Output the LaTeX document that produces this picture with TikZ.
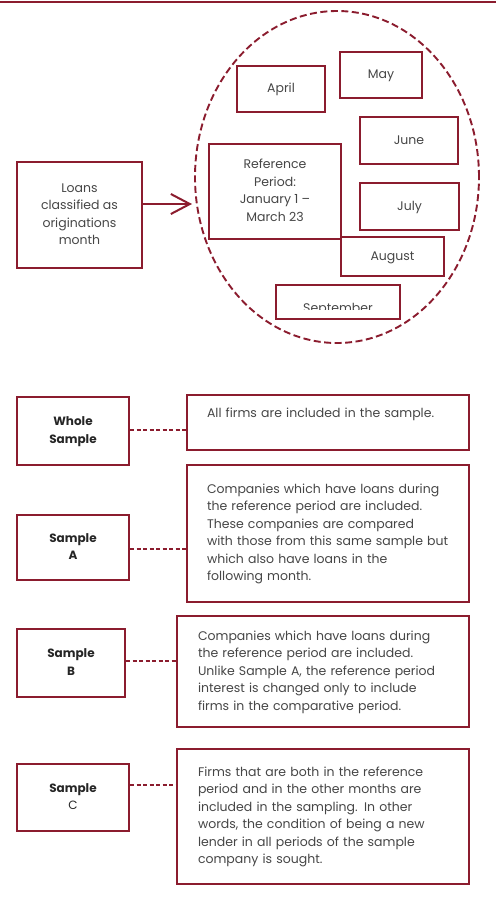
\documentclass[tikz,border=0pt]{standalone}
\usepackage{fontspec}
\setmainfont{Poppins}
\usetikzlibrary{arrows.meta,shapes.geometric}
\definecolor{dred}{RGB}{139,28,46}
\definecolor{txt}{RGB}{70,70,70}
\newcommand{\tlines}[3]{\raisebox{#1}{\begin{tabular}{@{}#2@{}}#3\end{tabular}}}
\begin{document}
\begin{tikzpicture}[x=1pt,y=-1pt,
  box/.style={draw=dred, line width=2pt, rectangle, inner sep=0pt, text=txt, align=center,
    font=\fontsize{12.5}{17.5}\selectfont},
  lab/.style={draw=dred, line width=2pt, rectangle, inner sep=0pt, text=black!85, align=center,
    font=\fontsize{12}{17.5}\selectfont\bfseries},
  desc/.style={draw=dred, line width=2pt, rectangle, inner ysep=0pt, text=txt, align=left,
    font=\fontsize{12.5}{17.5}\selectfont},
  conn/.style={draw=dred, line width=1.6pt, dash pattern=on 4pt off 2.5pt},
]
\useasboundingbox (0,0) rectangle (496,898);
\draw[dred, line width=2.2pt] (0,2) -- (496,2);

% ellipse
\node[ellipse, draw=dred, line width=1.9pt, dash pattern=on 7pt off 3.5pt, inner sep=0pt,
  minimum width=284pt, minimum height=332pt] (circ) at (337,177) {};

% month boxes
\node[box, minimum width=88pt, minimum height=46pt] (april) at (281,89) {\tlines{2pt}{c}{April}};
\node[box, minimum width=82pt, minimum height=46pt] (may) at (381,75) {\tlines{3pt}{c}{May}};
\node[box, minimum width=98pt, minimum height=47pt] (june) at (409,140.5) {\tlines{2.5pt}{c}{June}};
\node[box, minimum width=99pt, minimum height=47pt] (july) at (409.5,206.5) {\tlines{2.5pt}{c}{July}};
\node[box, minimum width=103pt, minimum height=39pt] (aug) at (392.5,256.5) {\tlines{0pt}{c}{August}};
\node[box, minimum width=132pt, minimum height=95pt, fill=white] (ref) at (275,191.5)
  {\tlines{1.5pt}{c}{Reference\\Period:\\January 1 --\\March 23}};
\node[box, minimum width=124pt, minimum height=34pt] (sept) at (338,302) {};
\begin{scope}
  \clip (277,286) rectangle (399,309.5);
  \node[text=txt, font=\fontsize{12.5}{17.5}\selectfont, anchor=base, inner sep=0pt] (septt) at (338,312.5) {September};
\end{scope}

% loans box and arrow
\node[box, minimum width=125pt, minimum height=106pt] (loans) at (79.5,215)
  {\tlines{6.5pt}{c}{Loans\\classified as\\originations\\month}};
\coordinate (arrtip) at (192,204);
\draw[dred, line width=2pt, -{Straight Barb[length=19pt,width=20pt]}] (loans.east |- arrtip) -- (arrtip);

% sample labels
\node[lab, minimum width=112pt, minimum height=68pt] (whole) at (73,431) {\tlines{4.5pt}{c}{Whole\\Sample}};
\node[lab, minimum width=112pt, minimum height=65pt] (sa) at (73,547.5) {\tlines{0pt}{c}{Sample\\A}};
\node[lab, minimum width=108pt, minimum height=68pt] (sb) at (71,663) {\tlines{5pt}{c}{Sample\\B}};
\node[lab, minimum width=112pt, minimum height=67pt] (sc) at (73,797.5) {\tlines{4.5pt}{c}{Sample\\\mdseries C}};

% descriptions
\node[desc, inner xsep=20pt, text width=242pt, minimum height=55pt] (wdesc) at (328,422.5)
  {\tlines{0pt}{l}{All firms are included in the sample.\\ \mbox{}}};
\node[desc, inner xsep=20pt, text width=242pt, minimum height=137pt] (adesc) at (328,533.5)
  {\tlines{4pt}{l}{Companies which have loans during\\the reference period are included.\\These companies are compared\\with those from this same sample but\\which also have loans in the\\following month.}};
\node[desc, inner xsep=21pt, text width=250pt, minimum height=111pt] (bdesc) at (323,671.5)
  {\tlines{0pt}{l}{Companies which have loans during\\the reference period are included.\\Unlike Sample A, the reference period\\interest is changed only to include\\firms in the comparative period.}};
\node[desc, inner xsep=21pt, text width=250pt, minimum height=135pt] (cdesc) at (323,816.5)
  {\tlines{4pt}{l}{Firms that are both in the reference\\period and in the other months are\\included in the sampling. In other\\words, the condition of being a new\\lender in all periods of the sample\\company is sought.}};

% dashed connectors
\draw[conn] ([yshift=1pt]whole.east) -- ([yshift=1pt]whole.east -| wdesc.west);
\draw[conn] ([yshift=-1.5pt]sa.east) -- ([yshift=-1.5pt]sa.east -| adesc.west);
\draw[conn] ([yshift=2pt]sb.east) -- ([yshift=2pt]sb.east -| bdesc.west);
\draw[conn] ([yshift=12.5pt]sc.east) -- ([yshift=12.5pt]sc.east -| cdesc.west);
\end{tikzpicture}
\end{document}
